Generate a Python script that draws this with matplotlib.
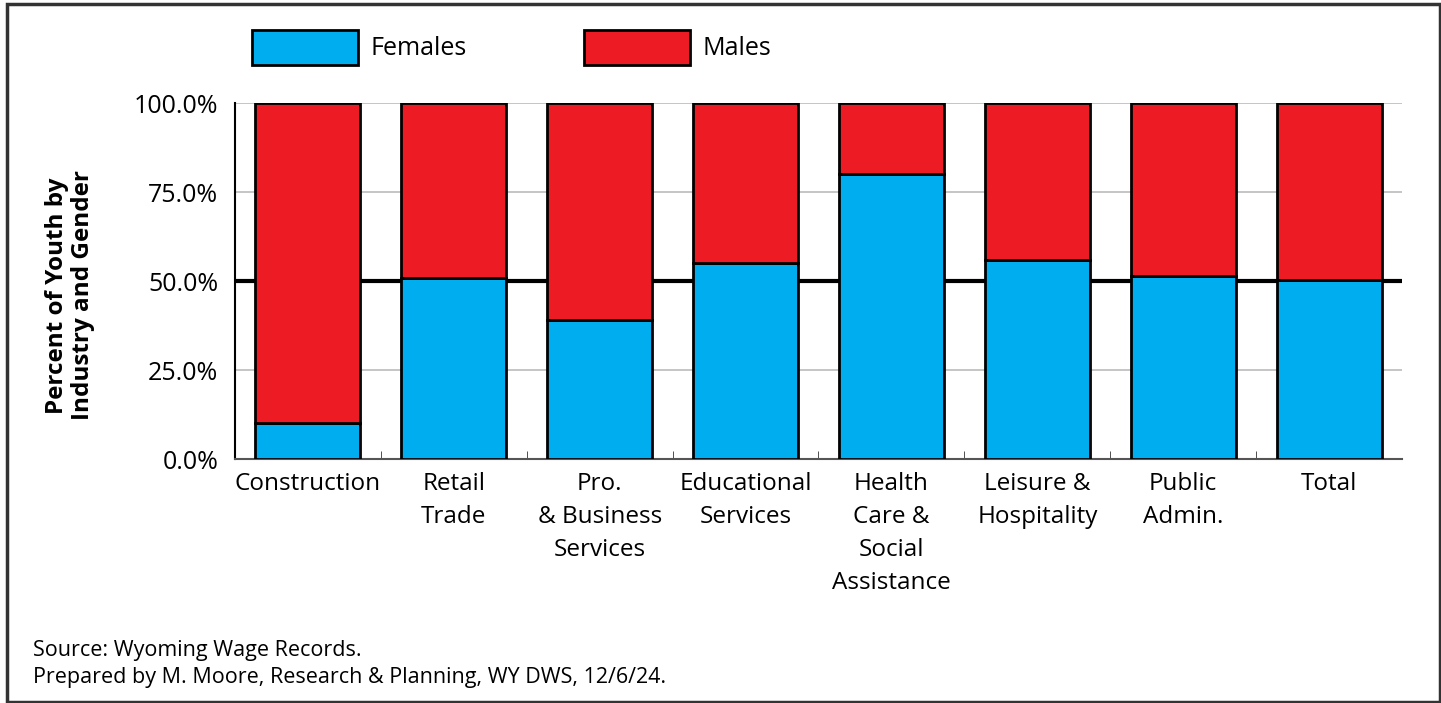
import matplotlib.pyplot as plt
from matplotlib.patches import Patch, Rectangle
from matplotlib.ticker import FuncFormatter
import numpy as np

industries = ['Construction', 'Retail\nTrade', 'Pro.\n& Business\nServices', 'Educational\nServices',
              'Health\nCare &\nSocial\nAssistance', 'Leisure &\nHospitality', 'Public\nAdmin.', 'Total']
females = [10.1, 50.8, 39.0, 55.2, 80.0, 55.9, 51.4, 50.2]
males = [100 - f for f in females]

blue = '#00AEEF'
red = '#ED1C24'

plt.rcParams['font.family'] = ['Open Sans', 'DejaVu Sans']

fig = plt.figure(figsize=(14.41, 7.03), dpi=100)
ax = fig.add_axes([0.163, 0.347, 0.81, 0.506])

x = np.arange(len(industries))
ax.bar(x, females, width=0.72, color=blue, edgecolor='black', linewidth=2, zorder=3)
ax.bar(x, males, bottom=females, width=0.72, color=red, edgecolor='black', linewidth=2, zorder=3)

ax.set_xlim(-0.5, len(industries) - 0.5)
ax.set_ylim(0, 100)
ax.set_yticks([0, 25, 50, 75, 100])
ax.yaxis.set_major_formatter(FuncFormatter(lambda v, p: f'{v:.1f}%'))
ax.tick_params(axis='y', length=0, labelsize=18, pad=12)
ax.set_xticks(x)
ax.set_xticklabels(industries, fontsize=17.5, linespacing=1.5)
ax.set_xticks(np.arange(0.5, len(industries) - 0.5), minor=True)
ax.tick_params(axis='x', which='major', length=0, pad=9)
ax.tick_params(axis='x', which='minor', direction='in', length=6, color='#333333')
ax.grid(axis='y', color='#bbbbbb', linewidth=1.2, zorder=0)
ax.axhline(50, color='black', linewidth=3, zorder=2)

for s in ['top', 'right']:
    ax.spines[s].set_visible(False)
ax.spines['left'].set_color('black')
ax.spines['left'].set_linewidth(1.5)
ax.spines['bottom'].set_color('#555555')
ax.spines['bottom'].set_linewidth(1.5)

ax.set_ylabel('Percent of Youth by\nIndustry and Gender', fontsize=17.5, fontweight='bold',
              linespacing=1.1)
ax.yaxis.set_label_coords(-0.12, 0.46)

handles = [Patch(facecolor=blue, edgecolor='black', linewidth=2, label='Females'),
           Patch(facecolor=red, edgecolor='black', linewidth=2, label='Males')]
fig.legend(handles=handles, loc='upper left', bbox_to_anchor=(0.159, 0.99), ncol=2, frameon=False,
           fontsize=18, handlelength=4.25, handleheight=1.8, handletextpad=0.5, columnspacing=4.7)

fig.text(0.023, 0.074, 'Source: Wyoming Wage Records.', fontsize=15.5, va='center')
fig.text(0.023, 0.036, 'Prepared by M. Moore, Research & Planning, WY DWS, 12/6/24.', fontsize=15.5, va='center')

fig.add_artist(Rectangle((0.005, 0.002), 0.994, 0.992, transform=fig.transFigure, fill=False,
                         edgecolor='#333333', linewidth=2.5))

fig.savefig('out.png', dpi=100)
